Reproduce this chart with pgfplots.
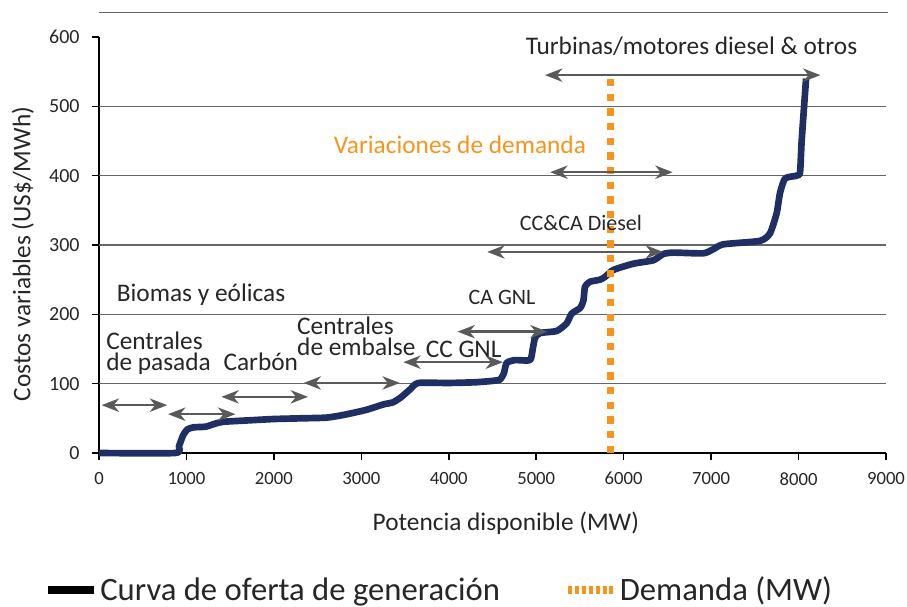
\documentclass[border=0pt]{standalone}
\usepackage{fontspec}
\setmainfont{Carlito}
\usepackage{pgfplots}
\pgfplotsset{compat=1.18}
\usetikzlibrary{arrows.meta}
\definecolor{curvec}{HTML}{1F2E63}
\definecolor{demc}{HTML}{F7941D}
\definecolor{gridc}{HTML}{666666}
\definecolor{arrc}{HTML}{5A5A5A}
\definecolor{txtc}{HTML}{262626}

\tikzset{
  rng/.style={arrc, line width=1.8pt,
    {Stealth[length=13pt,width=10pt,inset=4pt]}-{Stealth[length=13pt,width=10pt,inset=4pt]}},
  lab/.style={font=\fontsize{19}{22}\selectfont, text=txtc, inner sep=0pt, anchor=base},
  labs/.style={font=\fontsize{16.5}{19}\selectfont, text=txtc, inner sep=0pt, anchor=base},
  lab2/.style={font=\fontsize{19}{16.3}\selectfont, text=txtc, inner sep=0pt,
    align=left, anchor=base west},
}

\begin{document}
\begin{tikzpicture}
\begin{axis}[
    scale only axis, width=590.25pt, height=312pt,
    xmin=0, xmax=9000, ymin=0, ymax=600,
    axis x line*=bottom, axis y line*=left,
    axis line style={black, line width=1.5pt},
    xtick={0,1000,...,9000}, ytick={0,100,...,600},
    tick align=outside, major tick length=5pt,
    tick style={black, line width=1.2pt},
    /pgf/number format/1000 sep={},
    /pgf/number format/assume math mode=true,
    xticklabel style={font=\fontsize{14}{16}\selectfont, text=txtc, yshift=-6pt},
    yticklabel style={font=\fontsize{15}{17}\selectfont, text=txtc, xshift=-6pt},
    extra y ticks={100,200,300,400,500},
    extra y tick labels={},
    extra y tick style={grid=major, major tick length=0pt},
    major grid style={gridc, line width=1pt},
    clip=false,
    xlabel={Potencia disponible (MW)},
    ylabel={Costos variables (US\$/MWh)},
    every axis x label/.style={at={(axis description cs:0.517,-0.168)}, anchor=center,
        font=\fontsize{19}{22}\selectfont, text=txtc},
    every axis y label/.style={at={(axis description cs:-0.0966,0.478)}, anchor=center,
        rotate=90, font=\fontsize{19}{22}\selectfont, text=txtc},
    legend columns=2,
    legend cell align=left,
    legend style={at={(axis description cs:-0.0699,-0.329)}, anchor=west,
        draw=none, fill=none, inner sep=0pt,
        font=\fontsize{24.5}{28}\selectfont, text=txtc,
        /tikz/every even column/.append style={column sep=46pt}},
]

\addlegendimage{legend image code/.code={\draw[black, line width=6pt] (0pt,0pt) -- (34pt,0pt);}}
\addlegendentry{Curva de oferta de generación}
\addlegendimage{legend image code/.code={\draw[demc, line width=6pt, dash pattern=on 3pt off 2.2pt] (0pt,0pt) -- (34pt,0pt);}}
\addlegendentry{Demanda (MW)}

% top border line
\draw[gridc, line width=1pt] (axis cs:0,635) -- (axis cs:9020,635);

% supply curve
\addplot[curvec, line width=5pt, smooth, tension=0.35, line join=round, forget plot] coordinates {
  (0,0) (870,0) (915,10) (960,25) (1010,34) (1080,37) (1220,38) (1320,42) (1420,45)
  (1700,47) (2000,49) (2300,50) (2600,51) (2800,55) (3050,62) (3250,70) (3360,73)
  (3450,80) (3560,92) (3650,101) (4000,101) (4300,102) (4500,104) (4586,106)
  (4630,115) (4662,130) (4758,134) (4929,134) (4960,150) (4986,166) (5043,173)
  (5234,176) (5348,187) (5405,201) (5501,209) (5540,220) (5558,240) (5615,247)
  (5730,250) (5787,254) (5882,264) (6110,273) (6339,278) (6453,287) (6568,289)
  (6911,288) (7026,294) (7140,301) (7560,306) (7674,317) (7750,346) (7788,375)
  (7846,396) (7978,400) (8017,405) (8036,451) (8086,540)
};

% demand
\addplot[demc, line width=5.5pt, dash pattern=on 5.5pt off 5.5pt, forget plot] coordinates {
  (5850,0) (5850,540)
};

% technology ranges
\draw[rng] (axis cs:30,69) -- (axis cs:780,69);
\draw[rng] (axis cs:790,56) -- (axis cs:1560,56);
\draw[rng] (axis cs:1400,81) -- (axis cs:2390,81);
\draw[rng] (axis cs:2340,101) -- (axis cs:3440,101);
\draw[rng] (axis cs:3480,131) -- (axis cs:4620,131);
\draw[rng] (axis cs:4100,175) -- (axis cs:5130,175);
\draw[rng] (axis cs:4440,290) -- (axis cs:6450,290);
\draw[rng] (axis cs:5160,405) -- (axis cs:6560,405);
\draw[rng] (axis cs:5100,545) -- (axis cs:8250,545);

% labels
\node[lab] at (axis cs:6776,575) {Turbinas/motores diesel \& otros};
\node[lab, text=demc] at (axis cs:4128,432) {Variaciones de demanda};
\node[labs] at (axis cs:5512,320.5) {CC\&CA Diesel};
\node[labs] at (axis cs:4609,214.7) {CA GNL};
\node[lab] at (axis cs:4170,138) {CC GNL};
\node[lab2] at (axis cs:2264,140) {Centrales\\de embalse};
\node[lab2] at (axis cs:80,118.6) {Centrales\\de pasada};
\node[lab] at (axis cs:1850,118.6) {Carbón};
\node[lab] at (axis cs:1167,219) {Biomas y eólicas};

\coordinate (bbsw) at (rel axis cs:-0.12579,-0.37019);
\coordinate (bbne) at (rel axis cs:1.02668,1.08894);
\end{axis}
\pgfresetboundingbox
\useasboundingbox (bbsw) rectangle (bbne);
\end{tikzpicture}
\end{document}
